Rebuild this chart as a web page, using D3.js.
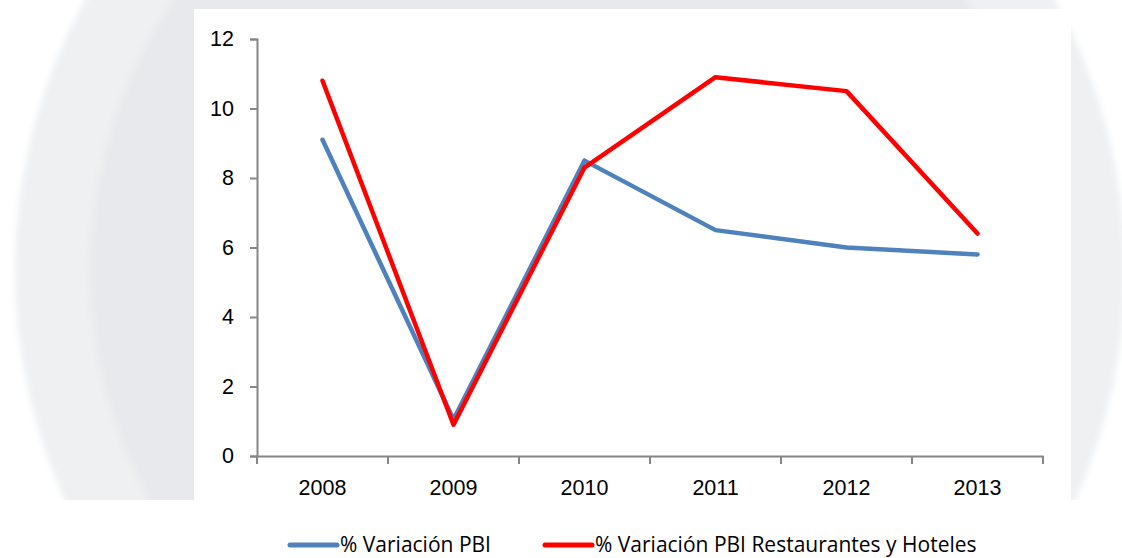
<!DOCTYPE html>
<html>
<head>
<meta charset="utf-8">
<script src="https://cdn.jsdelivr.net/npm/d3@7"></script>
<style>
  body { margin: 0; background: #fff; }
  svg { display: block; font-family: "Open Sans", sans-serif; }
</style>
</head>
<body>
<script>
const years = ["2008", "2009", "2010", "2011", "2012", "2013"];
const pbi = [9.1, 1.05, 8.5, 6.5, 6.0, 5.8];
const pbiRest = [10.8, 0.9, 8.3, 10.9, 10.5, 6.4];
const yTicks = [0, 2, 4, 6, 8, 10, 12];

const width = 1122, height = 558;
const svg = d3.select("body").append("svg")
  .attr("width", width)
  .attr("height", height);

// faint seal watermark behind the chart
svg.append("filter").attr("id", "blur")
  .append("feGaussianBlur").attr("stdDeviation", 3);
svg.append("clipPath").attr("id", "wm")
  .append("rect").attr("x", 0).attr("y", 0).attr("width", width).attr("height", 500);
const wm = svg.append("g").attr("clip-path", "url(#wm)").attr("filter", "url(#blur)");
wm.append("circle").attr("cx", 570).attr("cy", 270).attr("r", 555).attr("fill", "#eef0f2");
wm.append("circle").attr("cx", 570).attr("cy", 270).attr("r", 480).attr("fill", "#e7e9ec");

// white chart area
svg.append("rect").attr("x", 194).attr("y", 9).attr("width", 877).attr("height", 504).attr("fill", "#fff");
svg.append("rect").attr("x", 0).attr("y", 513).attr("width", width).attr("height", 45).attr("fill", "#fff");

const x = d3.scaleBand().domain(years).range([257, 1043]);
const y = d3.scaleLinear().domain([0, 12]).range([456, 39]);

const axisColor = "#868686";

const yAxis = svg.append("g")
  .attr("transform", "translate(257,0)")
  .call(d3.axisLeft(y).tickValues(yTicks).tickSize(7).tickPadding(16));
const xAxis = svg.append("g")
  .attr("transform", "translate(0,456)")
  .call(d3.axisBottom(x).tickSize(0).tickPadding(24));

// category boundary ticks, Excel style
xAxis.selectAll(".bound")
  .data(years.map(d => x(d)).concat([x.range()[1]]))
  .enter().append("line")
  .attr("class", "bound")
  .attr("x1", d => d).attr("x2", d => d)
  .attr("y1", 0).attr("y2", 8)
  .attr("stroke", axisColor).attr("stroke-width", 2);

[yAxis, xAxis].forEach(g => {
  g.select(".domain").attr("stroke", axisColor).attr("stroke-width", 2);
  g.selectAll(".tick line").attr("stroke", axisColor).attr("stroke-width", 2);
  g.selectAll("text").attr("fill", "#000").style("font-size", "21.5px");
});

const line = d3.line()
  .x((d, i) => x(years[i]) + x.bandwidth() / 2)
  .y(d => y(d));

svg.append("path").datum(pbi)
  .attr("d", line).attr("fill", "none")
  .attr("stroke", "#4f81bd").attr("stroke-width", 4.5)
  .attr("stroke-linecap", "round").attr("stroke-linejoin", "round");
svg.append("path").datum(pbiRest)
  .attr("d", line).attr("fill", "none")
  .attr("stroke", "#ff0000").attr("stroke-width", 4.5)
  .attr("stroke-linecap", "round").attr("stroke-linejoin", "round");

// legend
const legend = [
  { name: "% Variación PBI", color: "#4f81bd", x: 290 },
  { name: "% Variación PBI Restaurantes y Hoteles", color: "#ff0000", x: 545 }
];
const lg = svg.selectAll(".leg").data(legend).enter().append("g")
  .attr("transform", d => `translate(${d.x},545)`);
lg.append("line").attr("x1", 0).attr("x2", 47)
  .attr("stroke", d => d.color).attr("stroke-width", 5).attr("stroke-linecap", "round");
lg.append("text").attr("x", 50).attr("dy", "0.35em")
  .style("font-size", "21px").text(d => d.name);
</script>
</body>
</html>
